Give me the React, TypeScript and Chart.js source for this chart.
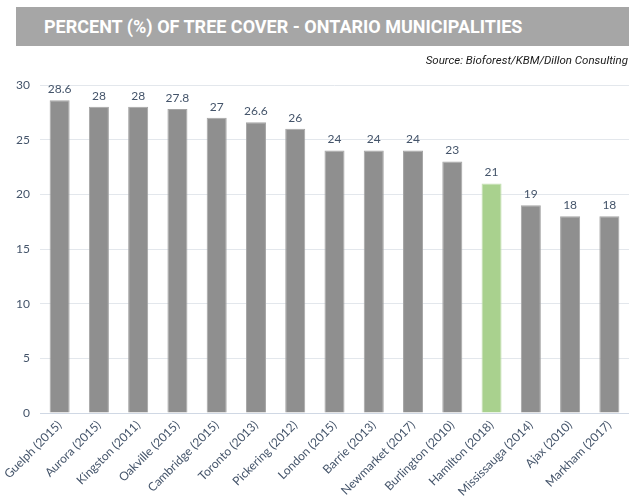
import React, { useEffect, useRef } from "react";
import { Chart, registerables } from "chart.js";

Chart.register(...registerables);

const categories = [
  "Guelph (2015)", "Aurora (2015)", "Kingston (2011)", "Oakville (2015)", "Cambridge (2015)",
  "Toronto (2013)", "Pickering (2012)", "London (2015)", "Barrie (2013)", "Newmarket (2017)",
  "Burlington (2010)", "Hamilton (2018)", "Mississauga (2014)", "Ajax (2010)", "Markham (2017)",
];
const treeCover = [28.6, 28, 28, 27.8, 27, 26.6, 26, 24, 24, 24, 23, 21, 19, 18, 18];
const highlighted = "Hamilton (2018)";
const yTicks = [0, 5, 10, 15, 20, 25, 30];

const TEXT = "#44546a";

const dataLabels = {
  id: "dataLabels",
  afterDatasetsDraw(chart: any) {
    const ctx = chart.ctx;
    const meta = chart.getDatasetMeta(0);
    ctx.save();
    ctx.font = "12px Lato";
    ctx.fillStyle = TEXT;
    ctx.textAlign = "center";
    ctx.textBaseline = "bottom";
    meta.data.forEach((bar: any, i: number) => {
      ctx.fillText(String(chart.data.datasets[0].data[i]), bar.x, bar.y - 5);
    });
    ctx.restore();
  },
};

export default function App() {
  const ref = useRef<HTMLCanvasElement>(null);
  useEffect(() => {
    if (!ref.current) return;
    const chart = new Chart(ref.current, {
      type: "bar",
      data: {
        labels: categories,
        datasets: [
          {
            data: treeCover,
            backgroundColor: categories.map((c) => (c === highlighted ? "#a9d18e" : "#8f8f8f")),
            borderColor: categories.map((c) => (c === highlighted ? "#c5e0b4" : "#a5a5a5")),
            borderWidth: 1,
            barPercentage: 0.51,
            categoryPercentage: 1,
          },
        ],
      },
      options: {
        animation: false,
        responsive: false,
        maintainAspectRatio: false,
        layout: { padding: { top: 85, right: 0, left: 0, bottom: 0 } },
        plugins: { legend: { display: false }, tooltip: { enabled: false } },
        scales: {
          x: {
            grid: { display: false, drawTicks: false },
            border: { color: "#d0d8e4", width: 1 },
            ticks: {
              color: TEXT,
              font: { family: "Lato", size: 12 },
              minRotation: 45,
              maxRotation: 45,
              padding: 5,
            },
            afterFit(scale: any) {
              scale.height = 85;
            },
          },
          y: {
            min: 0,
            max: 30,
            afterBuildTicks(scale: any) {
              scale.ticks = yTicks.map((v) => ({ value: v }));
            },
            grid: { color: "#e3e7ec", drawTicks: false },
            border: { display: false },
            ticks: {
              color: TEXT,
              font: { family: "Lato", size: 12 },
              padding: 10,
            },
            afterFit(scale: any) {
              scale.width = 40;
            },
          },
        },
      },
      plugins: [dataLabels],
    });
    return () => chart.destroy();
  }, []);

  return (
    <div style={{ position: "fixed", left: 0, top: 0, width: 629, height: 498, background: "#fff" }}>
      <canvas ref={ref} width={629} height={498} style={{ position: "absolute", left: 0, top: 0 }} />
      <div
        style={{
          position: "absolute",
          left: 16,
          top: 7,
          width: 613,
          height: 39,
          background: "#a6a6a6",
          color: "#fff",
          fontFamily: "Roboto",
          fontWeight: 700,
          fontSize: 18,
          lineHeight: "40px",
          boxSizing: "border-box",
          paddingLeft: 28,
        }}
      >
        PERCENT (%) OF TREE COVER - ONTARIO MUNICIPALITIES
      </div>
      <div
        style={{
          position: "absolute",
          right: 1,
          top: 53,
          fontFamily: "Roboto",
          fontStyle: "italic",
          fontSize: 11.5,
          color: "#1a1a1a",
        }}
      >
        Source: Bioforest/KBM/Dillon Consulting
      </div>
    </div>
  );
}
